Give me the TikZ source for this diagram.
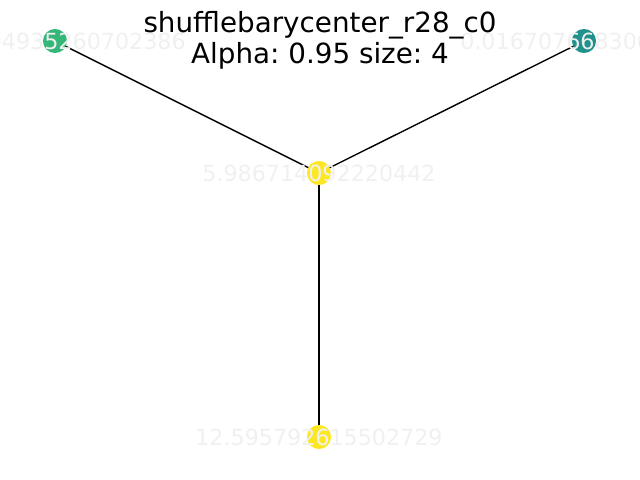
\documentclass[tikz,border=0pt]{standalone}
\usepackage{fontspec}
\setmainfont{DejaVu Sans}
\frenchspacing
\definecolor{vgreen}{RGB}{53,183,121}
\definecolor{vteal}{RGB}{33,145,140}
\definecolor{vyellow}{RGB}{253,231,37}
\begin{document}
\begin{tikzpicture}[x=0.72pt,y=-0.72pt,
  gnode/.style={circle, inner sep=0pt, minimum size=17.32pt, draw=none},
  edge/.style={draw=black, line width=1pt},
  wlabel/.style={inner sep=0pt, text=white, font=\fontsize{16}{19}\selectfont},
  glabel/.style={inner sep=0pt, text=black, text opacity=0.06, font=\fontsize{16}{19}\selectfont},
  title/.style={inner sep=0pt, anchor=base, font=\fontsize{20}{24}\selectfont}]
\useasboundingbox (0,0) rectangle (640,480);
\fill[white] (0,0) rectangle (640,480);
\coordinate (a) at (55,41);
\coordinate (b) at (584,41);
\coordinate (c) at (319,173);
\coordinate (d) at (319,437);
\draw[edge] (c) -- (a);
\draw[edge] (c) -- (b);
\draw[edge] (c) -- (d);
\node[gnode, fill=vgreen] (na) at (a) {};
\node[gnode, fill=vteal] (nb) at (b) {};
\node[gnode, fill=vyellow] (nc) at (c) {};
\node[gnode, fill=vyellow] (nd) at (d) {};
\node[wlabel] (wa) at (a) {12.0004935260702386};
\node[wlabel] (wb) at (b) {0.0167076683060612};
\node[wlabel] (wc) at (c) {5.986714092220442};
\node[wlabel] (wd) at (d) {12.595792615502729};
\node[glabel] (ga) at (a) {12.0004935260702386};
\node[glabel] (gb) at (b) {0.0167076683060612};
\node[glabel] (gc) at (c) {5.986714092220442};
\node[glabel] (gd) at (d) {12.595792615502729};
\node[title] (t1) at (320,32) {shufflebarycenter\_r28\_c0};
\node[title] (t2) at (320,63) {Alpha: 0.95 size: 4};
\end{tikzpicture}
\end{document}
